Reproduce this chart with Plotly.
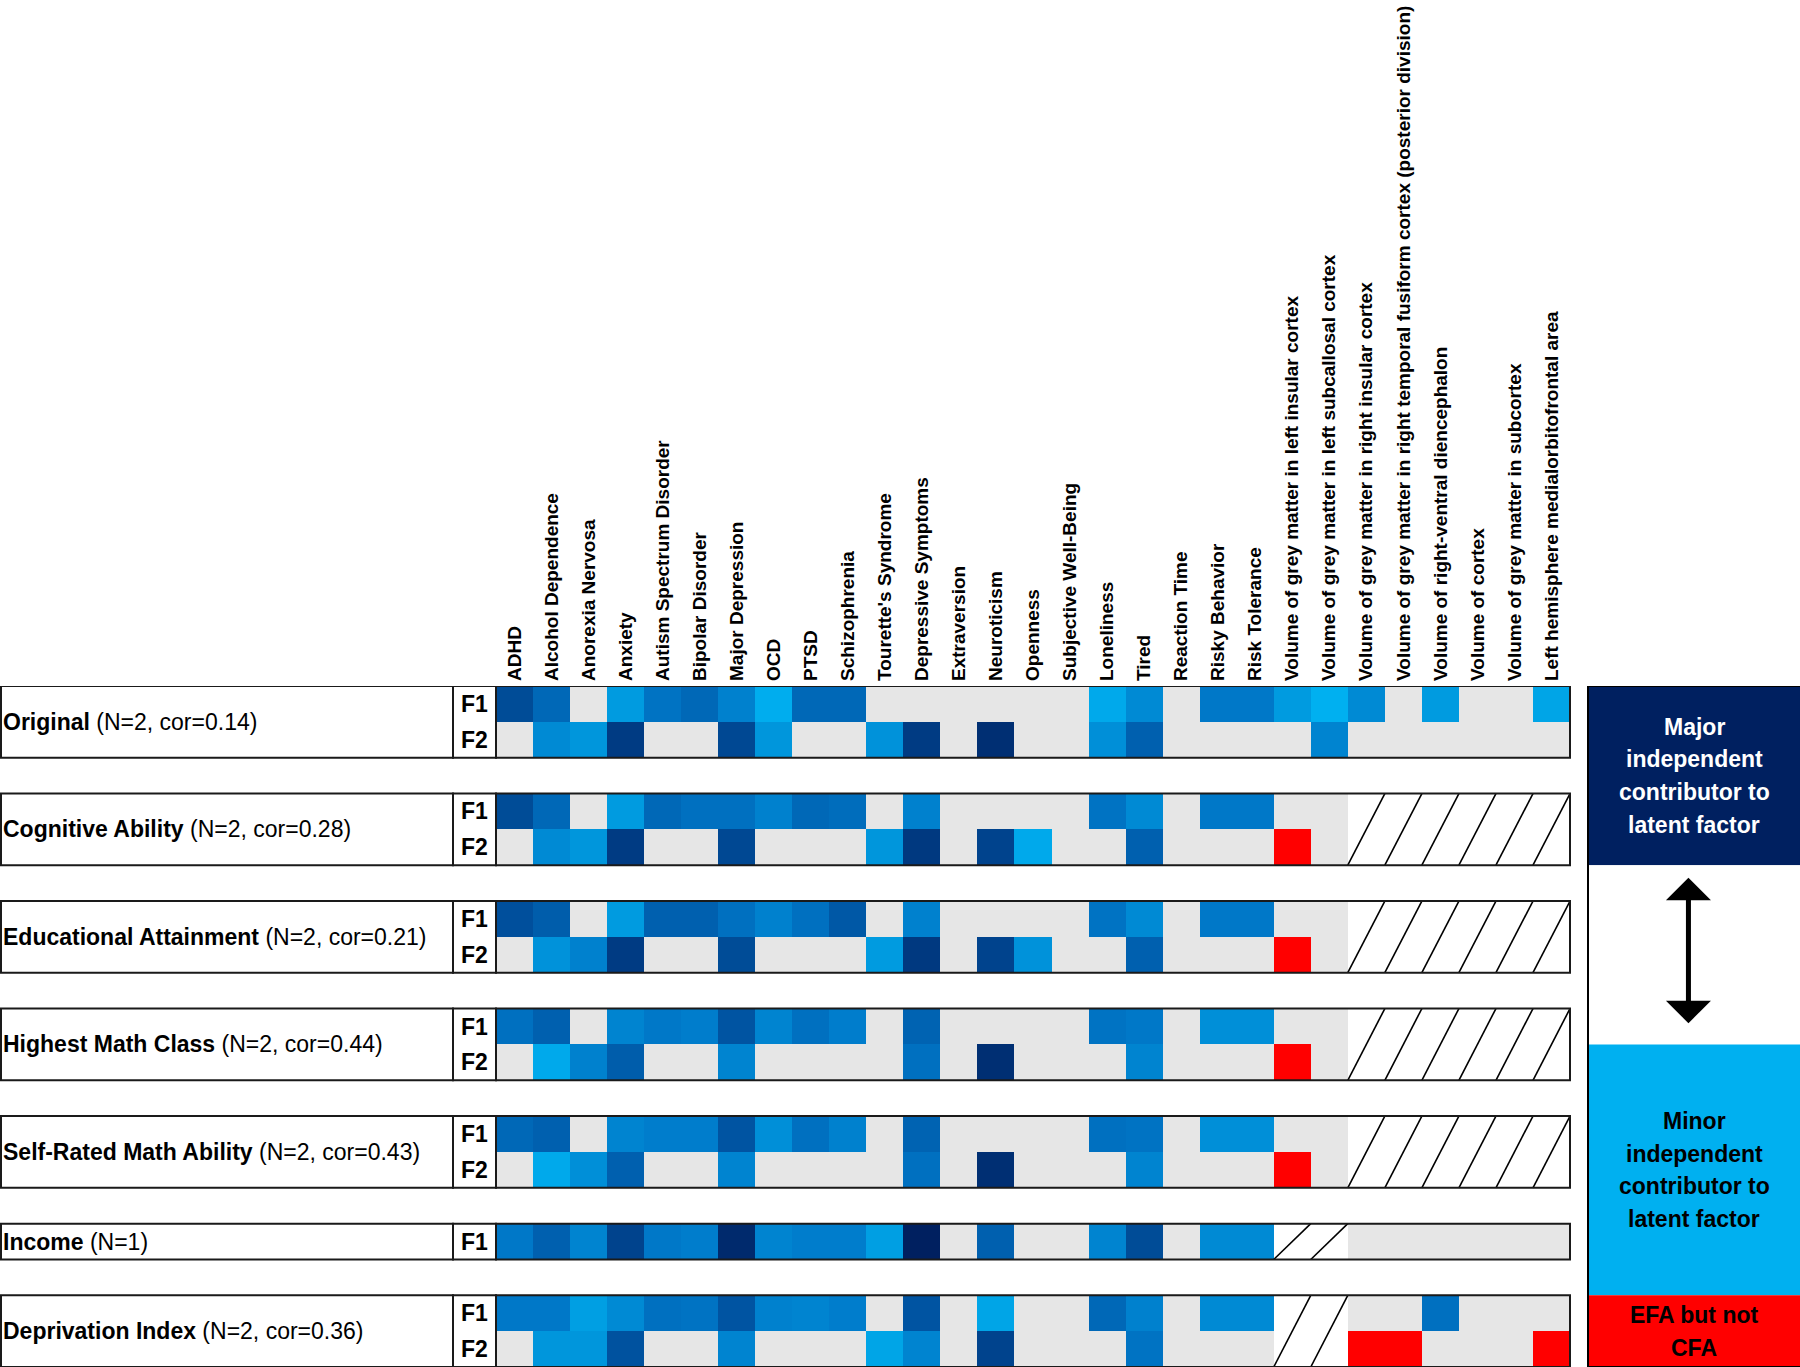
import math
import plotly.graph_objects as go

# ---------------- data ----------------
columns = [
    "ADHD", "Alcohol Dependence", "Anorexia Nervosa", "Anxiety",
    "Autism Spectrum Disorder", "Bipolar Disorder", "Major Depression", "OCD",
    "PTSD", "Schizophrenia", "Tourette's Syndrome", "Depressive Symptoms",
    "Extraversion", "Neuroticism", "Openness", "Subjective Well-Being",
    "Loneliness", "Tired", "Reaction Time", "Risky Behavior", "Risk Tolerance",
    "Volume of grey matter in left insular cortex",
    "Volume of grey matter in left subcallosal cortex",
    "Volume of grey matter in right insular cortex",
    "Volume of grey matter in right temporal fusiform cortex (posterior division)",
    "Volume of right-ventral diencephalon", "Volume of cortex",
    "Volume of grey matter in subcortex",
    "Left hemisphere medialorbitofrontal area",
]

group_names = ["Original", "Cognitive Ability", "Educational Attainment",
               "Highest Math Class", "Self-Rated Math Ability", "Income",
               "Deprivation Index"]
group_stats = ["(N=2, cor=0.14)", "(N=2, cor=0.28)", "(N=2, cor=0.21)",
               "(N=2, cor=0.44)", "(N=2, cor=0.43)", "(N=1)", "(N=2, cor=0.36)"]

G = None  # not a notable contributor (grey cell)
# shade: 0 = minor contributor (light blue) ... 1 = major contributor (navy)
original_F1 = [0.65, 0.45, G, 0.15, 0.38, 0.45, 0.30, 0.02, 0.45, 0.45, G, G, G, G, G, G,
               0.05, 0.25, G, 0.35, 0.35, 0.15, 0.00, 0.25, G, 0.15, G, G, 0.08]
original_F2 = [G, 0.25, 0.18, 0.78, G, G, 0.68, 0.18, G, G, 0.20, 0.78, G, 0.88, G, G,
               0.22, 0.50, G, G, G, G, 0.28, G, G, G, G, G, G]
cognitive_F1 = [0.65, 0.45, G, 0.15, 0.45, 0.40, 0.40, 0.30, 0.45, 0.42, G, 0.30, G, G, G, G,
                0.38, 0.25, G, 0.35, 0.35, G, G, G, G, G, G, G, G]
cognitive_F2 = [G, 0.25, 0.18, 0.78, G, G, 0.68, G, G, G, 0.18, 0.80, G, 0.72, 0.05, G,
                G, 0.50, G, G, G, G, G, G, G, G, G, G, G]
education_F1 = [0.62, 0.52, G, 0.15, 0.50, 0.50, 0.40, 0.30, 0.40, 0.55, G, 0.30, G, G, G, G,
                0.38, 0.25, G, 0.35, 0.35, G, G, G, G, G, G, G, G]
education_F2 = [G, 0.20, 0.30, 0.78, G, G, 0.65, G, G, G, 0.15, 0.80, G, 0.72, 0.20, G,
                G, 0.50, G, G, G, G, G, G, G, G, G, G, G]
math_class_F1 = [0.40, 0.50, G, 0.28, 0.35, 0.32, 0.58, 0.28, 0.40, 0.32, G, 0.48, G, G, G, G,
                 0.38, 0.35, G, 0.22, 0.22, G, G, G, G, G, G, G, G]
math_class_F2 = [G, 0.05, 0.30, 0.52, G, G, 0.28, G, G, G, G, 0.40, G, 0.88, G, G,
                 G, 0.28, G, G, G, G, G, G, G, G, G, G, G]
math_ability_F1 = [0.45, 0.50, G, 0.28, 0.32, 0.32, 0.58, 0.22, 0.40, 0.30, G, 0.48, G, G, G, G,
                   0.40, 0.38, G, 0.22, 0.22, G, G, G, G, G, G, G, G]
math_ability_F2 = [G, 0.05, 0.22, 0.50, G, G, 0.28, G, G, G, G, 0.40, G, 0.88, G, G,
                   G, 0.28, G, G, G, G, G, G, G, G, G, G, G]
income_F1 = [0.35, 0.50, 0.28, 0.72, 0.35, 0.32, 0.92, 0.28, 0.32, 0.32, 0.12, 1.00, G, 0.50, G, G,
             0.28, 0.65, G, 0.25, 0.25, G, G, G, G, G, G, G, G]
deprivation_F1 = [0.35, 0.35, 0.12, 0.25, 0.40, 0.38, 0.58, 0.30, 0.28, 0.32, G, 0.58, G, 0.08, G, G,
                  0.45, 0.30, G, 0.25, 0.25, G, G, G, G, 0.40, G, G, G]
deprivation_F2 = [G, 0.18, 0.18, 0.60, G, G, 0.28, G, G, G, 0.08, 0.28, G, 0.72, G, G,
                  G, 0.38, G, G, G, G, G, G, G, G, G, G, G]

group_factors = [
    [("F1", original_F1), ("F2", original_F2)],
    [("F1", cognitive_F1), ("F2", cognitive_F2)],
    [("F1", education_F1), ("F2", education_F2)],
    [("F1", math_class_F1), ("F2", math_class_F2)],
    [("F1", math_ability_F1), ("F2", math_ability_F2)],
    [("F1", income_F1)],
    [("F1", deprivation_F1), ("F2", deprivation_F2)],
]

# EFA but not CFA (red) cells: (group index, factor, column index)
efa_only_cells = [(1, "F2", 21), (2, "F2", 21), (3, "F2", 21), (4, "F2", 21),
                  (6, "F2", 23), (6, "F2", 24), (6, "F2", 28)]
# columns not included in the model (hatched)
not_modelled = {1: [23, 24, 25, 26, 27, 28], 2: [23, 24, 25, 26, 27, 28],
                3: [23, 24, 25, 26, 27, 28], 4: [23, 24, 25, 26, 27, 28],
                5: [21, 22], 6: [21, 22]}

legend_major = ["Major", "independent", "contributor to", "latent factor"]
legend_minor = ["Minor", "independent", "contributor to", "latent factor"]
legend_efa = ["EFA but not", "CFA"]

# ---------------- build matrices ----------------
NCOL = len(columns)
nan = float("nan")
z_blue, z_grey, z_red = [], [], []
row_labels = []          # (row, factor label)
spans = []               # (group idx, first row, last row)
r = 0
for gi, factors in enumerate(group_factors):
    start = r
    for fname, vals in factors:
        red_cols = [c for (g, f, c) in efa_only_cells if g == gi and f == fname]
        hatch = not_modelled.get(gi, [])
        br, gr, rr = [], [], []
        for c in range(NCOL):
            v = vals[c]
            if c in red_cols:
                br.append(nan); gr.append(nan); rr.append(1)
            elif c in hatch:
                br.append(nan); gr.append(nan); rr.append(nan)
            elif v is None:
                br.append(nan); gr.append(1); rr.append(nan)
            else:
                br.append(v); gr.append(nan); rr.append(nan)
        z_blue.append(br); z_grey.append(gr); z_red.append(rr)
        row_labels.append((r, fname))
        r += 1
    spans.append((gi, start, r - 1))
    if gi < len(group_factors) - 1:
        z_blue.append([nan] * NCOL); z_grey.append([nan] * NCOL); z_red.append([nan] * NCOL)
        r += 1
NROW = r

xs = list(range(NCOL))
ys = list(range(NROW))

# ---------------- layout geometry ----------------
W, H = 1800, 1367
HM_LEFT, HM_RIGHT = 496, 1570          # heatmap pixel extent
TOP = 686
cw = (HM_RIGHT - HM_LEFT) / NCOL
rh = (H - TOP) / NROW
X0 = -0.5 - HM_LEFT / cw
X1 = NCOL - 0.5 + (W - HM_RIGHT) / cw
XF = -0.5 - (HM_LEFT - 453) / cw       # left edge of F column
XL = X0 + 1.0 / cw
XLEG = -0.5 + (1588 - HM_LEFT) / cw

FONT = "Liberation Sans Narrow, Arial Narrow, Liberation Sans, Arial, sans-serif"

blue_scale = [[0.0, "#00B0F0"], [0.15, "#009BE0"], [0.35, "#0078C8"],
              [0.55, "#0058A6"], [0.75, "#003F88"], [1.0, "#002060"]]

fig = go.Figure()
fig.add_trace(go.Heatmap(x=xs, y=ys, z=z_grey, colorscale=[[0, "#E6E6E6"], [1, "#E6E6E6"]],
                         zmin=0, zmax=1, showscale=False, hoverinfo="skip"))
fig.add_trace(go.Heatmap(x=xs, y=ys, z=z_blue, colorscale=blue_scale,
                         zmin=0, zmax=1, showscale=False,
                         hovertemplate="%{z:.2f}<extra></extra>"))
fig.add_trace(go.Heatmap(x=xs, y=ys, z=z_red, colorscale=[[0, "#FF0000"], [1, "#FF0000"]],
                         zmin=0, zmax=1, showscale=False, hoverinfo="skip"))

# hatch lines for columns not modelled
hx, hy = [], []
for gi, s, e in spans:
    for c in not_modelled.get(gi, []):
        hx += [c - 0.5, c + 0.5, None]
        hy += [e + 0.5, s - 0.5, None]
fig.add_trace(go.Scatter(x=hx, y=hy, mode="lines", line=dict(color="black", width=1.6),
                         hoverinfo="skip", showlegend=False))

shapes, annotations = [], []
for gi, s, e in spans:
    for (a, b) in [(XL, XF), (XF, -0.5), (-0.5, NCOL - 0.5)]:
        shapes.append(dict(type="rect", xref="x", yref="y", x0=a, x1=b, y0=s - 0.5, y1=e + 0.5,
                           line=dict(color="#1a1a1a", width=2), layer="above"))
    annotations.append(dict(x=XL, y=(s + e) / 2, xref="x", yref="y", xanchor="left",
                            yanchor="middle", xshift=0, showarrow=False,
                            text=f"<b>{group_names[gi]}</b> {group_stats[gi]}",
                            font=dict(family=FONT, size=23, color="black")))
for rr_, fname in row_labels:
    annotations.append(dict(x=(XF - 0.5) / 2, y=rr_, xref="x", yref="y", showarrow=False,
                            text=f"<b>{fname}</b>",
                            font=dict(family=FONT, size=23, color="black")))

# legend panel
leg_blocks = [(-0.5, 4.5, "#002060"), (4.5, 9.5, "white"), (9.5, 16.5, "#00B0F0"),
              (16.5, NROW - 0.5, "#FF0000")]
for y0, y1, col in leg_blocks:
    shapes.append(dict(type="rect", xref="x", yref="y", x0=XLEG, x1=X1, y0=y0, y1=y1,
                       fillcolor=col, line=dict(width=0), layer="below"))
shapes.append(dict(type="rect", xref="x", yref="y", x0=XLEG, x1=X1 + 0.2, y0=-0.5, y1=NROW - 0.5,
                   line=dict(color="black", width=2), layer="above"))
xc = (XLEG + X1) / 2
line_step = 32.7 / rh
for lines, yc, col in [(legend_major, 2.0, "white"), (legend_minor, 13.0, "black"),
                       (legend_efa, 17.5, "black")]:
    n = len(lines)
    for k, ln in enumerate(lines):
        annotations.append(dict(x=xc, y=yc + (k - (n - 1) / 2) * line_step, xref="x", yref="y",
                                showarrow=False, text=f"<b>{ln}</b>",
                                font=dict(family=FONT, size=23, color=col)))
annotations.append(dict(x=xc - 0.15, y=4.85, ax=xc - 0.15, ay=8.95, xref="x", yref="y",
                        axref="x", ayref="y", text="", showarrow=True, arrowhead=1,
                        arrowside="end+start", arrowwidth=5, arrowsize=1.5, arrowcolor="black"))

fig.update_layout(
    width=W, height=H, margin=dict(l=0, r=0, t=TOP, b=0),
    paper_bgcolor="white", plot_bgcolor="white", showlegend=False,
    shapes=shapes, annotations=annotations,
    xaxis=dict(range=[X0, X1], side="top", tickmode="array", tickvals=xs, ticktext=columns,
               tickangle=-90, showgrid=False, zeroline=False, showline=False, ticks="",
               ticklabelstandoff=4, fixedrange=True,
               tickfont=dict(family="Liberation Sans, Arial, sans-serif", size=19,
                             color="black", weight="bold")),
    yaxis=dict(range=[NROW - 0.5, -0.5], showgrid=False, zeroline=False, showline=False,
               showticklabels=False, ticks="", fixedrange=True),
)

fig.write_html("out.html", config={"displayModeBar": False},
               post_script="document.body.style.margin='0px';")
